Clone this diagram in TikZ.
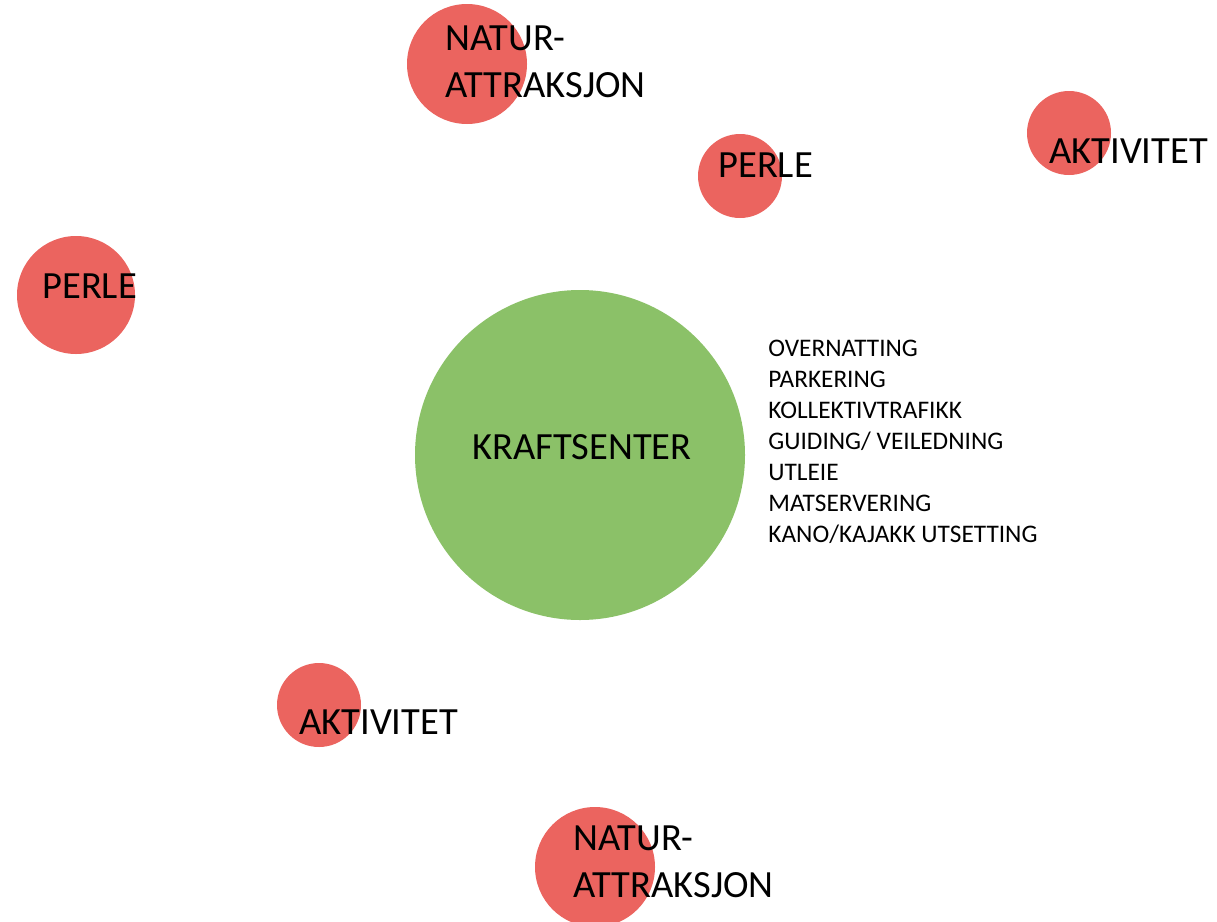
\documentclass[tikz,border=0pt]{standalone}
\usepackage{fontspec}
\setmainfont{Carlito}
\usepackage{tikz}
\usetikzlibrary{positioning}
\definecolor{pearlred}{HTML}{EB645F}
\definecolor{hubgreen}{HTML}{8BC168}
\tikzset{every picture/.style={line width=0.75pt}}
\tikzset{
  spot/.style={circle,fill=pearlred,draw=none,inner sep=0pt},
  hub/.style={circle,fill=hubgreen,draw=none,inner sep=0pt,minimum size=330pt},
  biglabel/.style={anchor=base west,inner sep=0pt,align=left,font=\fontsize{38.5}{47}\selectfont},
  smalllabel/.style={anchor=base west,inner sep=0pt,align=left,font=\fontsize{25.3}{31}\selectfont}
}

\begin{document}
\begin{tikzpicture}[x=1pt,y=-1pt]
\useasboundingbox (0,0) rectangle (1217,921);
% circles
\node[spot,minimum size=120pt] (naturtop) at (467,64) {};
\node[spot,minimum size=84pt] (perletop) at (740,176) {};
\node[spot,minimum size=84pt] (aktivtop) at (1069,133) {};
\node[spot,minimum size=118pt] (perleleft) at (76,295) {};
\node[hub] (kraft) at (580,455) {};
\node[spot,minimum size=84pt] (aktivbot) at (319,705) {};
\node[spot,minimum size=120pt] (naturbot) at (595,867) {};
% labels (base = last line)
\node[biglabel] (naturtoptxt) at (445,97) {NATUR-\\ATTRAKSJON};
\node[biglabel] (perletoptxt) at (718,177) {PERLE};
\node[biglabel] (aktivtoptxt) at (1049,163) {AKTIVITET};
\node[biglabel] (perlelefttxt) at (42,298) {PERLE};
\node[biglabel] (krafttxt) at (472,459) {KRAFTSENTER};
\node[biglabel] (aktivbottxt) at (299,734) {AKTIVITET};
\node[biglabel] (naturbottxt) at (573,897) {NATUR-\\ATTRAKSJON};
%
\node[smalllabel] (services) at (768,542) {OVERNATTING\\PARKERING\\KOLLEKTIVTRAFIKK\\GUIDING/ VEILEDNING\\UTLEIE\\MATSERVERING\\KANO/KAJAKK UTSETTING};
\end{tikzpicture}
\end{document}
